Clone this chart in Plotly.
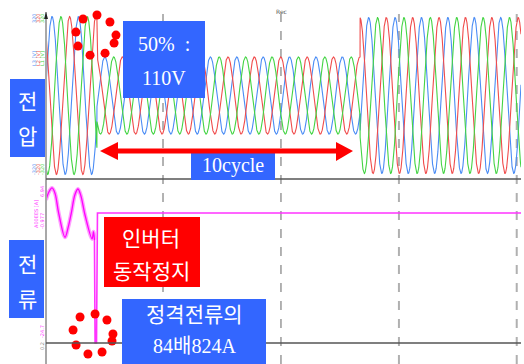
import numpy as np
import plotly.graph_objects as go

# ---------------- data ----------------
# three-phase voltage (top strip)
PHASE_NAMES = ["L3", "L2", "L1"]
PHASE_COLORS = ["#4a8cf5", "#f04c4c", "#44d444"]
PHASE_FIRST_PEAK_MS = [3.8, 14.9, 9.4]      # first positive peak of each phase
FREQ_HZ = 60
SEG_START_MS = [0.0, 32.2, 198.4]           # normal / 50% sag / recovered
SEG_END_MS = [32.2, 198.4, 300.0]
SEG_PEAK_V = [315, 154, 311]

# inverter current (bottom strip)
CUR_PRE_T_MS = [0.0, 1.9, 3.8, 5.7, 8.0, 12.0, 14.0, 16.1, 18.3, 20.2, 22.0, 24.6, 29.1, 30.0, 30.6]
CUR_PRE_A = [1.4, 2.9, 3.6, 2.6, -1.0, -5.4, -3.6, -0.8, 2.4, 3.4, 2.2, -1.3, -5.7, -4.4, -5.9]
CUR_POST_T_MS = [30.6, 31.0, 31.9, 32.5, 300.0]
CUR_POST_A = [-5.9, -24.7, -24.7, -0.977, -0.977]

# highlight dots
DOT_TOP_T_MS = [23.4, 32.2, 40.4, 44.2, 43.0, 37.3, 27.8, 20.2, 18.9]
DOT_TOP_V = [305, 321, 293, 241, 209, 169, 161, 197, 253]
DOT_BOT_T_MS = [21.5, 31.0, 38.5, 42.3, 41.7, 35.4, 26.5, 19.0, 17.1]
DOT_BOT_A = [-19.96, -19.41, -20.5, -23.06, -24.33, -26.34, -26.71, -25.07, -22.33]

GRID_T_MS = [73.9, 148.4, 222.9, 297.3]

# ---------------- figure ----------------
W, H = 524, 364
def px(x):
    return x / W
def py(y):
    return 1 - y / H

fig = go.Figure()

t = np.arange(0, 300.0001, 0.05)
amp = np.zeros_like(t)
for s, e, a in zip(SEG_START_MS, SEG_END_MS, SEG_PEAK_V):
    amp[(t >= s) & (t <= e)] = a
for name, col, pk in zip(PHASE_NAMES, PHASE_COLORS, PHASE_FIRST_PEAK_MS):
    v = amp * np.cos(2 * np.pi * FREQ_HZ * (t - pk) / 1000.0)
    fig.add_trace(go.Scatter(x=t, y=v, mode="lines", name=name,
                             line=dict(color=col, width=1.1),
                             xaxis="x", yaxis="y", hoverinfo="skip"))

# current: fuzzy part then spike and flat
fig.add_trace(go.Scatter(x=CUR_PRE_T_MS, y=CUR_PRE_A, mode="lines",
                         line=dict(color="rgba(255,80,255,0.55)", width=4, shape="spline"),
                         xaxis="x2", yaxis="y2", hoverinfo="skip"))
fig.add_trace(go.Scatter(x=CUR_PRE_T_MS, y=CUR_PRE_A, mode="lines",
                         line=dict(color="#ff00ff", width=1.3, shape="spline"),
                         xaxis="x2", yaxis="y2", hoverinfo="skip"))
fig.add_trace(go.Scatter(x=CUR_POST_T_MS, y=CUR_POST_A, mode="lines",
                         line=dict(color="#ff33ff", width=1.6),
                         xaxis="x2", yaxis="y2", hoverinfo="skip"))

fig.add_trace(go.Scatter(x=DOT_TOP_T_MS, y=DOT_TOP_V, mode="markers",
                         marker=dict(color="#ff0000", size=9),
                         xaxis="x", yaxis="y", hoverinfo="skip"))
fig.add_trace(go.Scatter(x=DOT_BOT_T_MS, y=DOT_BOT_A, mode="markers",
                         marker=dict(color="#ff0000", size=9),
                         xaxis="x2", yaxis="y2", hoverinfo="skip"))

shapes = []
# grid lines
for i, g in enumerate(GRID_T_MS):
    dark = i < 2
    shapes.append(dict(type="line", xref="x", yref="paper", x0=g, x1=g,
                       y0=py(364), y1=py(14), layer="below",
                       line=dict(color="#666666" if dark else "#b0b0b0",
                                 width=1 if dark else 2, dash="dash")))
# frame lines
shapes.append(dict(type="line", xref="paper", yref="paper", x0=px(46), x1=px(46),
                   y0=py(364), y1=py(12), line=dict(color="#a8a8a8", width=2)))
shapes.append(dict(type="line", xref="paper", yref="paper", x0=px(46), x1=px(521),
                   y0=py(179), y1=py(179), line=dict(color="#555555", width=1.5)))
shapes.append(dict(type="line", xref="paper", yref="paper", x0=px(46), x1=px(521),
                   y0=py(343), y1=py(343), line=dict(color="#555555", width=1.5)))
# small axis arrow
shapes.append(dict(type="path", xref="paper", yref="paper",
                   path=f"M{px(46)},{py(12)} L{px(44)},{py(19)} L{px(48)},{py(19)} Z",
                   fillcolor="#222222", line=dict(width=0)))

# boxes
def rect(x0, y0, x1, y1, col):
    shapes.append(dict(type="rect", xref="paper", yref="paper",
                       x0=px(x0), x1=px(x1), y0=py(y1), y1=py(y0),
                       fillcolor=col, line=dict(width=0), layer="above"))

BLUE = "#3366ff"
rect(10, 79, 45, 157, BLUE)
rect(9, 240, 44, 318, BLUE)
rect(123, 21, 205, 98, BLUE)
rect(191, 153, 275, 180, BLUE)
rect(104, 217, 200, 287, "#ff0000")
rect(122, 299, 266, 364, BLUE)

# double arrow
shapes.append(dict(type="line", xref="paper", yref="paper", x0=px(116), x1=px(339),
                   y0=py(151), y1=py(151), line=dict(color="#ff0000", width=5), layer="above"))
shapes.append(dict(type="path", xref="paper", yref="paper",
                   path=f"M{px(100)},{py(151)} L{px(118)},{py(142)} L{px(118)},{py(160)} Z",
                   fillcolor="#ff0000", line=dict(width=0), layer="above"))
shapes.append(dict(type="path", xref="paper", yref="paper",
                   path=f"M{px(353)},{py(151)} L{px(336)},{py(142)} L{px(336)},{py(161)} Z",
                   fillcolor="#ff0000", line=dict(width=0), layer="above"))

ann = []
FONT = "Liberation Serif, Noto Sans CJK KR, serif"
KFONT = "Noto Sans CJK KR, sans-serif"
def text(x, y, s, size=20, fam=FONT, col="white", angle=0):
    ann.append(dict(x=px(x), y=py(y), xref="paper", yref="paper", text=s,
                    showarrow=False, xanchor="center", yanchor="middle",
                    textangle=angle, font=dict(family=fam, size=size, color=col)))

text(164, 44, "50%\u00a0\u00a0:")
text(164, 78, "110V")
text(233, 166, "10cycle")
text(27, 100, "전", size=21, fam=KFONT)
text(27, 135, "압", size=21, fam=KFONT)
text(27, 263, "전", size=21, fam=KFONT)
text(27, 298, "류", size=21, fam=KFONT)
text(151, 237, "인버터", size=21, fam=KFONT)
text(151, 270, "동작정지", size=21, fam=KFONT)
text(194, 313, "정격전류의", size=21, fam=KFONT)
text(194, 346, "84배824A", size=20)

# tiny channel labels
SF = "DejaVu Sans"
for xx, col, nm in zip([34, 38, 42], PHASE_COLORS, PHASE_NAMES):
    text(xx, 18, "320", size=5, fam=SF, col=col, angle=-90)
    text(xx, 59, nm + " [V]", size=5, fam=SF, col=col, angle=-90)
    text(xx, 170, "-320", size=5, fam=SF, col=col, angle=-90)
text(42, 192, "6.94", size=5, fam=SF, col="#ff33ff", angle=-90)
text(36, 214, "A00EES [A]", size=5, fam=SF, col="#ff33ff", angle=-90)
text(42, 221, "-0.977", size=5, fam=SF, col="#ff33ff", angle=-90)
text(42, 332, "-24.7", size=5, fam=SF, col="#ff33ff", angle=-90)
text(42, 346, "0.2", size=5, fam=SF, col="#888888", angle=-90)
text(281, 11, "Rec", size=6, fam=SF, col="#555555")

dom_x = [px(46), px(521)]
fig.update_layout(
    width=W, height=H, margin=dict(l=0, r=0, t=0, b=0),
    paper_bgcolor="white", plot_bgcolor="white", showlegend=False,
    xaxis=dict(domain=dom_x, range=[0, 300], visible=False, anchor="y"),
    yaxis=dict(domain=[py(179), py(8)], range=[-333, 349], visible=False, anchor="x"),
    xaxis2=dict(domain=dom_x, range=[0, 300], visible=False, anchor="y2"),
    yaxis2=dict(domain=[0, py(181)], range=[-28.53, 4.86], visible=False, anchor="x2"),
    shapes=shapes, annotations=ann,
)
fig.write_html("out.html", config={"displayModeBar": False},
               post_script="document.body.style.margin='0';document.body.style.overflow='hidden';")
